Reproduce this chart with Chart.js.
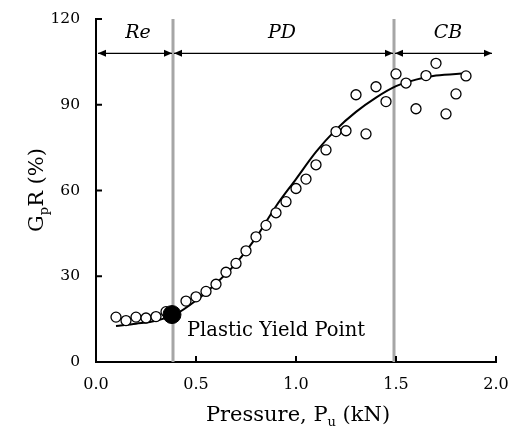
<!DOCTYPE html>
<html>
<head>
<meta charset="utf-8">
<script src="https://cdn.jsdelivr.net/npm/chart.js@4.4.1/dist/chart.umd.min.js"></script>
<style>
  html, body { margin: 0; padding: 0; background: #fff; }
  #wrap { width: 508px; height: 429px; position: relative; }
</style>
</head>
<body>
<div id="wrap"><canvas id="chart"></canvas></div>
<script>
// Measured points (pressure in kN, GpR in %)
const pressure = [0.10, 0.15, 0.20, 0.25, 0.30, 0.35, 0.45, 0.50, 0.55, 0.60, 0.65, 0.70,
  0.75, 0.80, 0.85, 0.90, 0.95, 1.00, 1.05, 1.10, 1.15, 1.20, 1.25, 1.30, 1.35, 1.40,
  1.45, 1.50, 1.55, 1.60, 1.65, 1.70, 1.75, 1.80, 1.85];
const gpr = [15.7, 14.5, 15.7, 15.4, 15.9, 17.6, 21.3, 22.8, 24.7, 27.2, 31.4, 34.5,
  38.9, 43.8, 47.8, 52.2, 56.1, 60.7, 64.0, 69.0, 74.2, 80.6, 80.9, 93.5, 79.8, 96.3,
  91.1, 100.8, 97.6, 88.6, 100.2, 104.5, 86.8, 93.8, 100.1];

// Fitted trend line
const fitPressure = [0.10, 0.20, 0.30, 0.40, 0.50, 0.60, 0.70, 0.80, 0.90, 1.00, 1.10,
  1.20, 1.30, 1.40, 1.50, 1.60, 1.70, 1.85];
const fitGpr = [12.6, 13.4, 14.4, 16.8, 21.5, 27.5, 34.5, 43.5, 54.5, 64.0, 73.5,
  81.3, 87.5, 92.5, 96.5, 98.8, 100.2, 101.0];

// Plastic yield point
const yieldPressure = [0.38];
const yieldGpr = [16.6];

// Region boundaries and labels
const boundaries = [0.385, 1.49];
const regionNames = ['Re', 'PD', 'CB'];
const regionLabelX = [0.21, 0.93, 1.76];
const regionLabelY = 115;
const arrowSpans = [[0.01, 0.38], [0.39, 1.485], [1.495, 1.98]];
const arrowY = 108;

// Tick labels
const xTicks = [0.0, 0.5, 1.0, 1.5, 2.0];
const yTicks = [0, 30, 60, 90, 120];

const FONT = "'DejaVu Serif', serif";

const toPoints = (xs, ys) => xs.map((x, i) => ({ x, y: ys[i] }));

// Draw text pieces, some as subscripts, centred on (cx, cy)
function drawParts(ctx, parts, cx, cy, size) {
  const subSize = Math.round(size * 0.62);
  let total = 0;
  parts.forEach(p => {
    ctx.font = `${p.sub ? subSize : size}px ${FONT}`;
    p.w = ctx.measureText(p.t).width;
    total += p.w;
  });
  let x = cx - total / 2;
  ctx.textBaseline = 'alphabetic';
  ctx.textAlign = 'left';
  parts.forEach(p => {
    ctx.font = `${p.sub ? subSize : size}px ${FONT}`;
    ctx.fillText(p.t, x, cy + size * 0.35 + (p.sub ? size * 0.22 : 0));
    x += p.w;
  });
}

const decorPlugin = {
  id: 'decor',
  afterDatasetsDraw(chart) {
    const { ctx, scales: { x, y } } = chart;
    ctx.save();
    ctx.fillStyle = '#000';
    ctx.strokeStyle = '#000';

    // inward tick marks
    ctx.lineWidth = 2;
    xTicks.forEach(v => {
      const px = x.getPixelForValue(v);
      ctx.beginPath();
      ctx.moveTo(px, y.bottom);
      ctx.lineTo(px, y.bottom - 6);
      ctx.stroke();
    });
    yTicks.forEach(v => {
      const py = y.getPixelForValue(v);
      ctx.beginPath();
      ctx.moveTo(x.left, py);
      ctx.lineTo(x.left + 6, py);
      ctx.stroke();
    });

    // double headed arrows for the regions
    ctx.lineWidth = 1.3;
    const ay = y.getPixelForValue(arrowY);
    arrowSpans.forEach(([a, b]) => {
      const x1 = x.getPixelForValue(a);
      const x2 = x.getPixelForValue(b);
      ctx.beginPath();
      ctx.moveTo(x1, ay);
      ctx.lineTo(x2, ay);
      ctx.stroke();
      [[x1, 1], [x2, -1]].forEach(([tip, dir]) => {
        ctx.beginPath();
        ctx.moveTo(tip, ay);
        ctx.lineTo(tip + dir * 8, ay - 3.5);
        ctx.lineTo(tip + dir * 8, ay + 3.5);
        ctx.closePath();
        ctx.fill();
      });
    });

    // region names
    ctx.font = `italic 19px ${FONT}`;
    ctx.textAlign = 'center';
    ctx.textBaseline = 'middle';
    regionNames.forEach((n, i) => {
      ctx.fillText(n, x.getPixelForValue(regionLabelX[i]), y.getPixelForValue(regionLabelY));
    });

    // yield point label
    ctx.font = `19.5px ${FONT}`;
    ctx.textAlign = 'left';
    ctx.textBaseline = 'alphabetic';
    ctx.fillText('Plastic Yield Point', x.getPixelForValue(0.455), y.getPixelForValue(9.0));

    // axis titles
    drawParts(ctx, [{ t: 'Pressure, P' }, { t: 'u', sub: true }, { t: ' (kN)' }], 298, 414, 21);
    ctx.save();
    ctx.translate(36, 190);
    ctx.rotate(-Math.PI / 2);
    drawParts(ctx, [{ t: 'G' }, { t: 'p', sub: true }, { t: 'R (%)' }], 0, 0, 21);
    ctx.restore();

    ctx.restore();
  }
};

new Chart(document.getElementById('chart'), {
  type: 'scatter',
  data: {
    datasets: [
      {
        // plastic yield point, on top
        data: toPoints(yieldPressure, yieldGpr),
        pointRadius: 9,
        pointBackgroundColor: '#000',
        pointBorderColor: '#000',
        order: 0
      },
      {
        data: toPoints(pressure, gpr),
        pointRadius: 5,
        pointBorderWidth: 1.3,
        pointBackgroundColor: '#fff',
        pointBorderColor: '#000',
        order: 1
      },
      {
        type: 'line',
        data: toPoints(fitPressure, fitGpr),
        borderColor: '#000',
        borderWidth: 2,
        pointRadius: 0,
        cubicInterpolationMode: 'monotone',
        order: 2
      },
      // region boundaries
      ...boundaries.map(b => ({
        type: 'line',
        data: [{ x: b, y: 0 }, { x: b, y: 120 }],
        borderColor: '#a6a6a6',
        borderWidth: 3,
        pointRadius: 0,
        order: 3
      }))
    ]
  },
  options: {
    responsive: true,
    maintainAspectRatio: false,
    animation: false,
    layout: { padding: { top: 19, right: 12, left: 0, bottom: 0 } },
    plugins: { legend: { display: false }, tooltip: { enabled: false } },
    scales: {
      x: {
        type: 'linear',
        min: 0,
        max: 2,
        afterBuildTicks: s => { s.ticks = xTicks.map(v => ({ value: v })); },
        afterFit: s => { s.height = 67; s.paddingLeft = 0; s.paddingRight = 0; },
        grid: { display: false, drawTicks: false },
        border: { display: true, color: '#000', width: 2 },
        ticks: {
          padding: 13,
          color: '#000',
          font: { family: FONT, size: 16 },
          callback: v => v.toFixed(1)
        }
      },
      y: {
        min: 0,
        max: 120,
        afterBuildTicks: s => { s.ticks = yTicks.map(v => ({ value: v })); },
        afterFit: s => { s.width = 96; s.paddingTop = 0; s.paddingBottom = 0; },
        grid: { display: false, drawTicks: false },
        border: { display: true, color: '#000', width: 2 },
        ticks: {
          padding: 16,
          color: '#000',
          font: { family: FONT, size: 15.5 }
        }
      }
    }
  },
  plugins: [decorPlugin]
});
</script>
</body>
</html>
